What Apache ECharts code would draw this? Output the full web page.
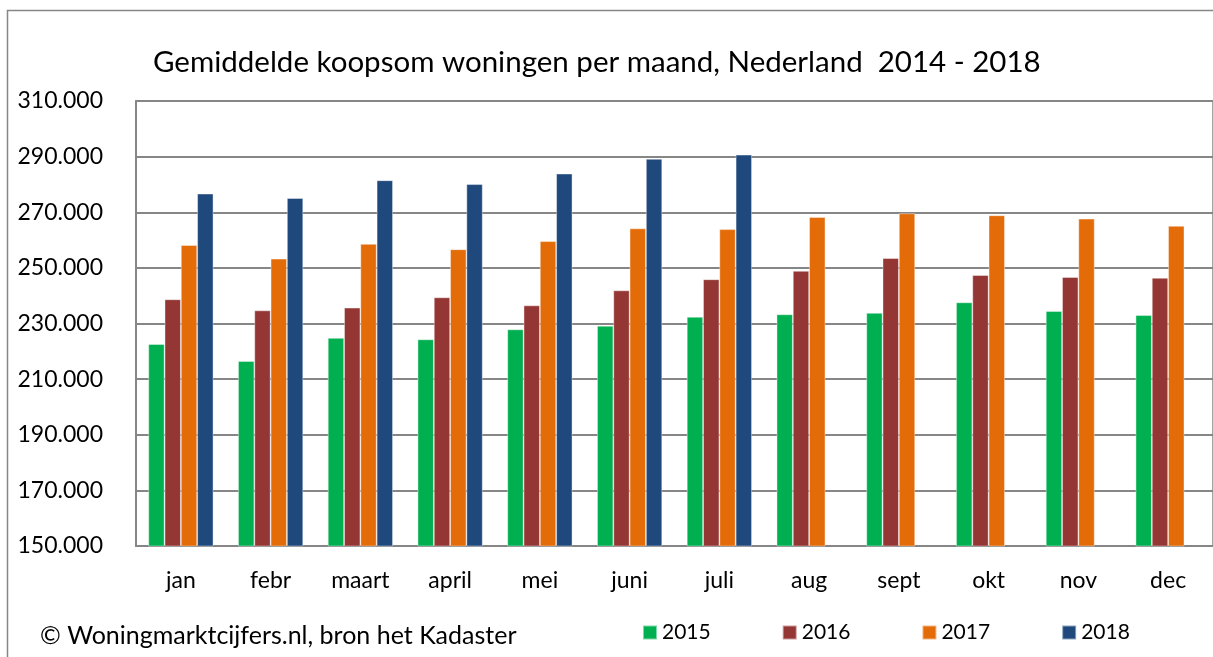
<!DOCTYPE html>
<html>
<head>
<meta charset="utf-8">
<script src="https://cdn.jsdelivr.net/npm/echarts@6/dist/echarts.min.js"></script>
<style>
html,body{margin:0;padding:0;background:#fff;}
#c{width:1213px;height:657px;}
</style>
</head>
<body>
<div id="c"></div>
<script>
const months = ['jan','febr','maart','april','mei','juni','juli','aug','sept','okt','nov','dec'];
const s2015 = [222600,216500,224800,224300,227900,229200,232400,233300,233800,237600,234500,233000];
const s2016 = [238700,234700,235700,239400,236500,241900,245900,248900,253500,247400,246700,246400];
const s2017 = [258200,253300,258600,256700,259600,264200,263900,268300,269600,268900,267700,265100];
const s2018 = [276700,275100,281500,280100,283900,289200,290700,null,null,null,null,null];
const seriesNames = ['2015','2016','2017','2018'];
const colors = ['#00B050','#943634','#E36C09','#1F497D'];
const yMin = 150000, yMax = 310000, yStep = 20000;
const titleText = 'Gemiddelde koopsom woningen per maand, Nederland  2014 - 2018';
const sourceText = '\u00A9 Woningmarktcijfers.nl, bron het Kadaster';

const FONT = 'Lato';
const chart = echarts.init(document.getElementById('c'), null, {renderer:'canvas'});
const data = [s2015, s2016, s2017, s2018];
chart.setOption({
  animation:false,
  backgroundColor:'#fff',
  textStyle:{fontFamily:FONT},
  title:{text:titleText,left:153,top:47,padding:0,textStyle:{fontFamily:FONT,fontSize:29.5,fontWeight:'normal',color:'#000'}},
  graphic:[
    {type:'rect',shape:{x:7.5,y:10.5,width:1220,height:700},style:{fill:'none',stroke:'#868686',lineWidth:1.5},silent:true},
    {type:'text',left:40,top:623,style:{text:sourceText,font:'25px '+FONT,fill:'#000'}}
  ],
  legend:{
    left:642, top:622, padding:0, itemWidth:14, itemHeight:14, itemGap:71,
    icon:'rect',
    textStyle:{fontFamily:FONT,fontSize:21,color:'#000'},
    data:seriesNames
  },
  grid:{left:136,top:101,right:-3,bottom:111,containLabel:false,
    show:true,borderColor:'#868686',borderWidth:1.5},
  xAxis:{type:'category',data:months,
    axisLine:{show:true,lineStyle:{color:'#868686',width:2}},
    axisTick:{show:false},
    axisLabel:{fontFamily:FONT,fontSize:23,color:'#000',margin:23},
    splitLine:{show:false}},
  yAxis:{type:'value',min:yMin,max:yMax,interval:yStep,
    axisLine:{show:true,lineStyle:{color:'#868686',width:2}},
    axisTick:{show:false},
    axisLabel:{fontFamily:FONT,fontSize:23,color:'#000',margin:33,
      formatter:v=>(v/1000).toFixed(0)+'.000'},
    splitLine:{lineStyle:{color:'#868686',width:2}}},
  series: seriesNames.map((n,i)=>({
    name:n,type:'bar',data:data[i],barGap:'0%',barCategoryGap:'27.4%',
    itemStyle:{color:colors[i],borderColor:'rgba(255,255,255,0.5)',borderWidth:0.8}
  }))
});
</script>
</body>
</html>
